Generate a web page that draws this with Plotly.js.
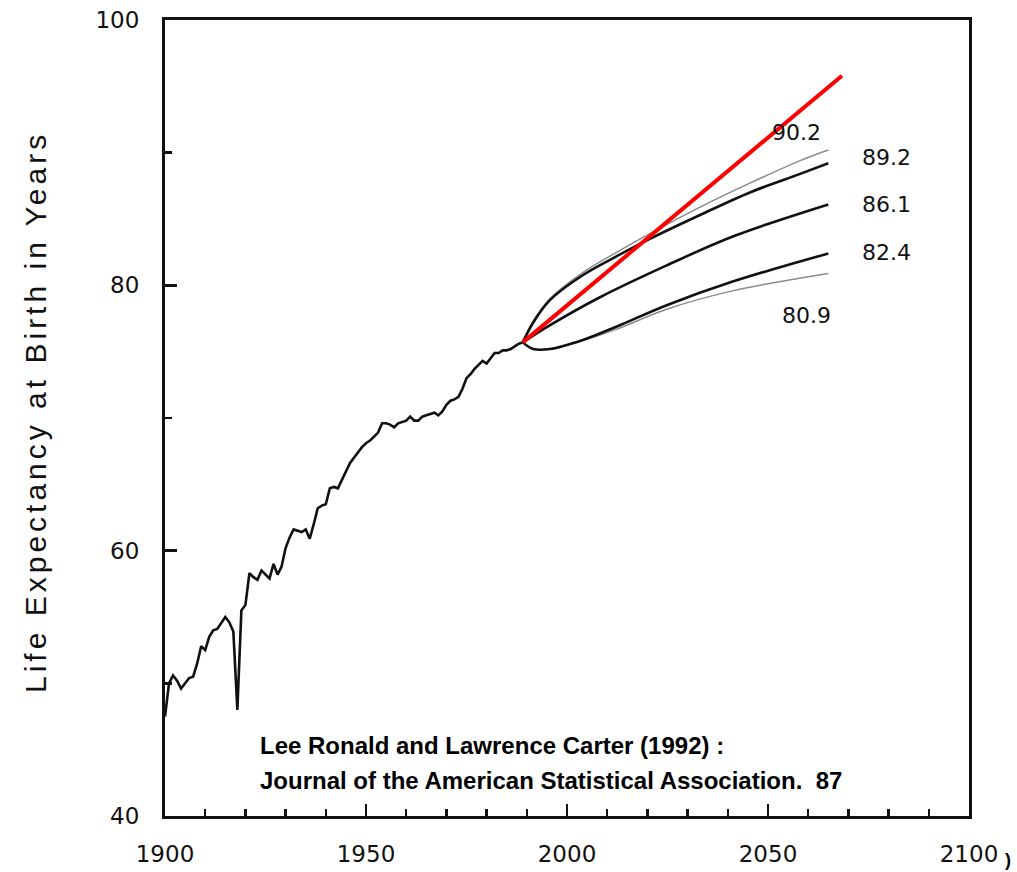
<!DOCTYPE html>
<html>
<head>
<meta charset="utf-8">
<script src="https://cdn.plot.ly/plotly-3.0.1.min.js"></script>
<style>
html,body{margin:0;padding:0;background:#fff;}
#chart{width:1017px;height:872px;}
g.annotation[data-index="0"] text{letter-spacing:4px;}
</style>
</head>
<body>
<div id="chart"></div>
<script>
// Historical US life expectancy at birth
var histYears = [1900,1901,1902,1903,1904,1905,1906,1907,1908,1909,1910,1911,1912,1913,1914,1915,1916,1917,1918,1919,
1920,1921,1922,1923,1924,1925,1926,1927,1928,1929,1930,1931,1932,1933,1934,1935,1936,1937,1938,1939,
1940,1941,1942,1943,1944,1945,1946,1947,1948,1949,1950,1951,1952,1953,1954,1955,1956,1957,1958,1959,
1960,1961,1962,1963,1964,1965,1966,1967,1968,1969,1970,1971,1972,1973,1974,1975,1976,1977,1978,1979,
1980,1981,1982,1983,1984,1985,1986,1987,1988,1989];
var histValues = [47.5,50.0,50.6,50.2,49.6,50.0,50.4,50.5,51.5,52.8,52.5,53.5,54.0,54.1,54.6,55.0,54.6,53.9,48.0,55.5,
55.9,58.3,58.0,57.8,58.5,58.2,57.9,59.0,58.2,58.8,60.2,61.0,61.6,61.5,61.4,61.6,60.9,62.0,63.2,63.4,
63.5,64.7,64.8,64.7,65.3,66.0,66.6,67.0,67.4,67.8,68.1,68.3,68.6,68.9,69.6,69.6,69.5,69.3,69.6,69.7,
69.8,70.1,69.8,69.8,70.1,70.2,70.3,70.4,70.2,70.5,71.0,71.3,71.4,71.6,72.2,73.0,73.3,73.7,74.0,74.3,
74.1,74.5,74.9,74.9,75.1,75.1,75.2,75.4,75.6,75.7];

// Forecast curves
var fcYears      = [1989, 1991.6, 1995.8, 2004.1, 2012.4, 2020.6, 2033.1, 2045.5, 2058, 2065];
var upperGrey    = [75.7, 77.3, 79.0, 81.0, 82.5, 83.9, 85.9, 87.7, 89.4, 90.2];
var upperBlack   = [75.7, 77.2, 78.9, 80.8, 82.2, 83.5, 85.3, 87.0, 88.4, 89.2];
var middleYears  = [1989, 1995.8, 2008.2, 2024.8, 2041.4, 2065];
var middleBlack  = [75.7, 77.0, 79.1, 81.5, 83.7, 86.1];
var lowerYears   = [1989, 1991.6, 1995.8, 2004.1, 2012.4, 2024.8, 2041.4, 2065];
var lowerBlack   = [75.7, 75.2, 75.2, 75.9, 76.9, 78.5, 80.3, 82.4];
var lowerGrey    = [75.7, 75.2, 75.2, 75.85, 76.7, 78.2, 79.6, 80.9];
var redYears     = [1989, 2068.4];
var redValues    = [75.7, 95.8];

var endLabels = ["90.2","89.2","86.1","82.4","80.9"];
var xTickVals = [1900,1950,2000,2050,2100];
var yTickVals = [40,60,80,100];

var tickFont = {family:"DejaVu Sans", size:23, color:"#111"};

var traces = [
  {x:histYears, y:histValues, mode:"lines", line:{color:"#111", width:2.6}, hoverinfo:"skip"},
  {x:fcYears, y:upperGrey, mode:"lines", line:{color:"#8a8a8a", width:1.5, shape:"spline"}, hoverinfo:"skip"},
  {x:lowerYears, y:lowerGrey, mode:"lines", line:{color:"#8a8a8a", width:1.5, shape:"spline"}, hoverinfo:"skip"},
  {x:fcYears, y:upperBlack, mode:"lines", line:{color:"#111", width:2.6, shape:"spline"}, hoverinfo:"skip"},
  {x:middleYears, y:middleBlack, mode:"lines", line:{color:"#111", width:2.6, shape:"spline"}, hoverinfo:"skip"},
  {x:lowerYears, y:lowerBlack, mode:"lines", line:{color:"#111", width:2.6, shape:"spline"}, hoverinfo:"skip"},
  {x:redYears, y:redValues, mode:"lines", line:{color:"#ff0000", width:4}, hoverinfo:"skip"}
];

var labFont = {family:"DejaVu Sans", size:22, color:"#111"};
var annotations = [
  {xref:"paper", yref:"y", x:-0.1617, y:70.45, text:"Life Expectancy at Birth in Years", textangle:-90,
   showarrow:false, xanchor:"center", yanchor:"middle", font:{family:"Liberation Sans", size:30, color:"#111"}},
  {x:2057.2, y:91.5, text:endLabels[0], showarrow:false, font:labFont},
  {x:2079.4, y:89.6, text:endLabels[1], showarrow:false, font:labFont},
  {x:2079.4, y:86.1, text:endLabels[2], showarrow:false, font:labFont},
  {x:2079.4, y:82.5, text:endLabels[3], showarrow:false, font:labFont},
  {x:2059.5, y:77.7, text:endLabels[4], showarrow:false, font:labFont},
  {x:1923.1, y:45.35, text:"Lee Ronald and Lawrence Carter (1992) :", showarrow:false, xanchor:"left", yanchor:"middle",
   font:{family:"Liberation Sans", size:24, color:"#000", weight:"bold"}},
  {x:1923.1, y:42.71, text:"Journal of the American Statistical Association.  87", showarrow:false, xanchor:"left", yanchor:"middle",
   font:{family:"Liberation Sans", size:24, color:"#000", weight:"bold"}},
  {xref:"paper", yref:"paper", x:1.0485, y:-0.0553, text:")", showarrow:false, xanchor:"center", yanchor:"middle",
   font:{family:"Liberation Sans", size:18, color:"#000", weight:"bold"}}
];

var layout = {
  width:1017, height:872,
  margin:{l:165, r:48, t:20, b:56},
  paper_bgcolor:"#fff", plot_bgcolor:"#fff",
  showlegend:false,
  xaxis:{range:[1900,2100], tickvals:xTickVals, ticks:"inside", ticklen:12, tickwidth:2.5, tickcolor:"#111",
         minor:{dtick:10, tick0:1900, ticks:"inside", ticklen:7, tickwidth:2.5, tickcolor:"#111", showgrid:false},
         showgrid:false, zeroline:false, showline:true, linecolor:"#111", linewidth:3, mirror:true,
         tickfont:tickFont, ticklabelstandoff:15, fixedrange:true},
  yaxis:{range:[40,100], tickvals:yTickVals, ticks:"inside", ticklen:12, tickwidth:2.5, tickcolor:"#111",
         minor:{dtick:10, tick0:40, ticks:"inside", ticklen:7, tickwidth:2.5, tickcolor:"#111", showgrid:false},
         showgrid:false, zeroline:false, showline:true, linecolor:"#111", linewidth:3, mirror:true,
         tickfont:tickFont, ticklabelstandoff:18, fixedrange:true},
  annotations:annotations
};

Plotly.newPlot("chart", traces, layout, {displayModeBar:false, staticPlot:true});
</script>
</body>
</html>
